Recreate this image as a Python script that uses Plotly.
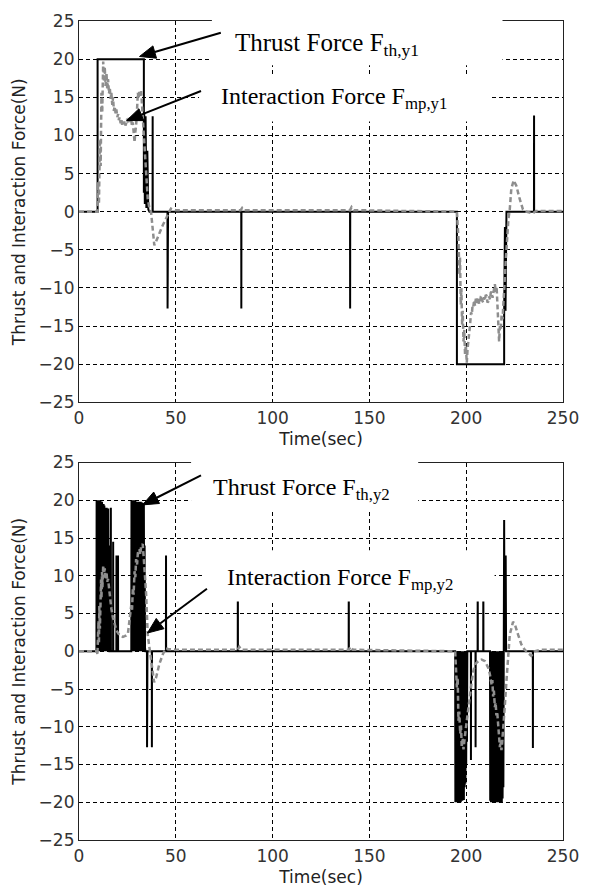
import math
import plotly.graph_objects as go

# ---------------- data ----------------
# Upper panel: thrust force F_th,y1 (black) and interaction force F_mp,y1 (grey dashed)
th1_t = [0, 9.6, 9.6, 33.5, 33.5, 33.7, 34.0, 34.4, 34.8, 35.3, 35.8, 36.4, 38.0, 38.05, 38.1,
         45.7, 45.75, 45.8, 45.9, 46.0, 83.8, 83.85, 83.9, 140.0, 140.05, 140.1,
         195.2, 195.2, 219.6, 219.6, 220.0, 220.3, 220.8, 235.0, 235.05, 235.1, 250]
th1_v = [0, 0, 20, 20, 2.5, 13, 1, 12.5, 0.5, 8, 0.3, 0, 0, 12.5, 0,
         0, -12.7, 0, -4.5, 0, 0, -12.7, 0, 0, -12.7, 0,
         0, -20, -20, -13.5, -2, -13, 0, 0, 12.6, 0, 0]

int1_t = [0, 9.5, 9.9, 10.3, 10.8, 11.2, 11.6, 12.0, 12.5, 12.9, 13.3, 13.7, 14.2, 14.6, 15.0,
          15.5, 15.9, 16.3, 16.7, 17.2, 17.6, 18.0, 18.4, 18.9, 19.3, 19.8, 20.2, 20.6, 21.0,
          21.5, 21.9, 22.3, 22.7, 23.2, 23.6, 24.0, 24.4, 24.9, 25.3, 25.7, 26.1, 26.6, 27.0,
          27.4, 27.8, 28.3, 28.7, 29.1, 29.5, 30.0, 30.4, 30.8, 31.2, 31.7, 32.1, 32.5, 32.9,
          33.4, 33.8, 34.2, 34.7, 35.1, 35.5, 36.0, 36.4, 37.2, 37.7, 38.1, 38.5, 38.9, 39.5,
          40.6, 41.9, 43.2, 44.5, 45.7, 46.6, 47.5, 48.5, 50, 60, 83.5, 84.3, 85.5, 140, 140.8,
          142, 195.2, 196.0, 196.3, 196.5, 196.8, 197.2, 197.5, 197.9, 198.2, 198.6, 199.0,
          199.4, 199.8, 200.3, 200.7, 201.2, 201.6, 202.0, 202.5, 202.9, 203.3, 203.7, 204.1,
          204.5, 205.0, 205.4, 205.8, 206.2, 206.7, 207.1, 207.6, 208.0, 208.4, 208.8, 209.3,
          209.7, 210.1, 210.5, 211.0, 211.4, 211.9, 212.3, 212.7, 213.1, 213.6, 214.0, 214.4,
          214.8, 215.3, 215.7, 216.2, 216.6, 217.0, 217.4, 217.9, 218.3, 218.8, 219.2, 219.6,
          220.0, 220.5, 220.9, 221.3, 221.8, 222.5, 223.3, 224.5, 225.9, 227.6, 229.3, 231,
          234.4, 236.1, 250]
int1_v = [0, 0, 3.9, 1, 9.5, 6, 15.6, 13, 19.7, 17, 19, 16.5, 18.2, 16, 17.4,
          15.5, 16.3, 14.8, 15.6, 14, 15, 13.2, 13.8, 12.9, 13.4, 12.4, 12.8, 12.0, 12.4,
          11.6, 12.1, 11.4, 11.8, 11.5, 11.9, 11.3, 11.6, 12.2, 11.7, 12.3, 11.6, 12.4, 12.0,
          11.2, 11.7, 9.5, 9.1, 10.5, 11.3, 13.5, 15.6, 14.8, 15.9, 15.2, 15.8, 14.2, 12.5,
          10, 7.8, 6.5, 4.3, 3.2, 1.7, 1, 0.4, 0, -1.5, -2.6, -3.8, -4.4, -4.1,
          -3.5, -2.6, -1.8, -1.0, -0.5, 0, 0.4, 0.3, 0.2, 0.2, 0.2, 0.5, 0.2, 0.2, 0.6,
          0.2, 0, -3.5, -5.5, -8.3, -6, -12.2, -10, -14.8, -13, -17, -15.5,
          -18.7, -17.5, -19.8, -18, -17, -15.5, -14.8, -13.2, -13.5, -12.2, -12.4, -11.6,
          -12.3, -11.4, -12, -11.5, -11.2, -12.1, -11.8, -11.1, -11.0, -11.7, -11.9, -11.2,
          -11.6, -10.9, -11.0, -11.9, -11.8, -11.1, -11.5, -10.6, -10.5, -11.3, -10.9, -10.1,
          -9.5, -10.5, -9.8, -12.6, -15.5, -17, -15, -15.4, -13.5, -14.1, -12, -10.6,
          -8.5, -6.1, -4, -2.2, -1, 0.3, 3.0, 4.1, 3.4, 1.7, 0.3, 0,
          -0.2, 0.1, 0.1]

# Lower panel: thrust force F_th,y2 (black, chattering) and interaction force F_mp,y2 (grey dashed)
th2_t = [0, 9.0,
         9.1, 9.3, 9.5, 9.7, 9.9, 10.1, 10.3, 10.5, 10.7, 10.9, 11.1, 11.3, 11.5, 11.7, 11.9, 12.1,
         12.3, 12.5, 12.7, 12.9, 13.1, 13.3, 13.5, 13.7, 13.9, 14.1, 14.3, 14.5, 14.7, 14.9, 15.1,
         15.3, 15.5, 15.7, 16.4, 16.45, 16.5, 17.6, 17.65, 17.7, 19.3, 19.35, 19.4, 20.1, 20.15, 20.2,
         27.0, 27.1, 27.3, 27.5, 27.7, 27.9, 28.1, 28.3, 28.5, 28.7, 28.9, 29.1, 29.3, 29.5, 29.7,
         29.9, 30.1, 30.3, 30.5, 30.7, 30.9, 31.1, 31.3, 31.5, 31.7, 31.9, 32.1, 32.3, 32.5, 32.7,
         32.9, 33.1, 33.3, 33.5, 33.7, 33.9, 34.1, 34.3,
         35.1, 35.15, 35.2, 35.25, 35.35, 37.6, 37.65, 37.7, 44.9, 44.95, 45.0,
         82.0, 82.05, 82.1, 139.3, 139.35, 139.4,
         194.3, 194.4, 194.6, 194.8, 195.0, 195.2, 195.4, 195.6, 195.8, 196.0, 196.2, 196.4, 196.6,
         196.8, 197.0, 197.2, 197.4, 197.6, 197.8, 198.0, 198.2, 198.4, 198.6, 198.8, 199.0, 199.2,
         199.4, 199.6, 199.8, 200.0, 200.2, 200.4, 200.6,
         202.4, 202.45, 202.5, 204.8, 204.85, 204.9, 205.9, 205.95, 206.0, 208.8, 208.85, 208.9,
         212.3, 212.4, 212.6, 212.8, 213.0, 213.2, 213.4, 213.6, 213.8, 214.0, 214.2, 214.4, 214.6,
         214.8, 215.0, 215.2, 215.4, 215.6, 215.8, 216.0, 216.2, 216.4, 216.6, 216.8, 217.0, 217.2,
         217.4, 217.6, 217.8, 218.0, 218.2, 218.4, 218.6, 218.8, 219.0, 219.2, 219.4,
         219.6, 219.8, 220.0, 220.2, 220.4, 220.6, 234.4, 234.45, 234.5, 250]
th2_v = [0, 0,
         20, 0.3, 20, 0, 19.8, 0.5, 20, 0, 19.6, 0.4, 20, 0, 19.5, 0.6, 19.8, 0,
         19.2, 0.3, 19.5, 0, 19.3, 0.5, 19, 0, 18.8, 0.4, 19, 0, 17.5, 0.2, 18.9,
         0, 14, 0, 0, 19, 0, 0, 14.5, 0, 0, 12.7, 0, 0, 12.7, 0,
         0, 20, 0.3, 20, 0, 19.8, 0.4, 20, 0, 19.7, 0.5, 20, 0, 19.8, 0.3,
         19.6, 0, 19.8, 0.4, 19.5, 0, 19.8, 0.2, 19.6, 0, 19.8, 0.5, 19.5, 0, 19.7,
         0.3, 19.5, 0, 19.6, 0.3, 14, 0.5, 0,
         0, -12.7, 0, -7.6, 0, 0, -12.7, 0, 0, 12.7, 0,
         0, 12.5, 0, 0, 12.5, 0,
         0, -20, -0.3, -20, 0, -19.8, -0.5, -20, 0, -19.8, -0.4, -20, 0,
         -19.7, -0.5, -20, 0, -19.6, -0.3, -19.8, 0, -19.5, -0.4, -19.7, 0, -18,
         -0.3, -17.5, 0, -15, 0, -12, 0,
         0, -14.4, 0, 0, -12.7, 0, 0, 12.5, 0, 0, 12.5, 0,
         0, -19.8, -0.4, -20, 0, -19.7, -0.5, -20, 0, -19.8, -0.3, -20, 0,
         -19.6, -0.5, -20, 0, -19.8, -0.4, -20, 0, -19.7, -0.3, -20, 0, -19.8,
         -0.5, -20, 0, -19.6, -0.3, -20, 0, -19.5, -0.4, -18, 0,
         17.4, 0, 12.7, 0, 12.7, 0, 0, -12.8, 0, 0]

int2_t = [0, 9.3, 9.5, 9.7, 9.9, 10.1, 10.3, 10.5, 10.8, 11.0, 11.2, 11.4, 11.6, 11.9, 12.1,
          12.5, 12.8, 13.3, 13.7, 14.2, 14.6, 15.0, 15.4, 15.9, 16.3, 16.7, 17.5, 18.4, 19.3,
          20.2, 21.0, 21.9, 22.7, 23.6, 24.4, 25.3, 26.1, 26.5, 27.0, 27.4, 27.8, 28.2, 28.7,
          29.1, 29.5, 30.0, 30.4, 31.2, 31.7, 32.1, 32.9, 33.4, 33.8, 34.2, 34.7, 35.2, 35.5,
          36.0, 36.4, 37.2, 38.1, 38.8, 39.8, 41.5, 43.3, 44.8, 46, 50, 82, 82.8, 84, 139.4,
          140.2, 141.5, 194.3, 195.2, 195.6, 196.0, 196.4, 196.9, 197.3, 197.7, 198.2, 198.6,
          199.0, 199.4, 199.8, 200.3, 201.2, 202.0, 202.9, 203.7, 204.6, 206.3, 208.0, 209.7,
          211.4, 212.2, 213.1, 213.5, 213.9, 214.3, 214.8, 215.2, 215.6, 216.0, 216.5, 217.0,
          217.4, 217.8, 218.2, 218.6, 219.1, 219.9, 220.8, 221.6, 222.5, 224.2, 225.1, 226.8,
          228.5, 230.2, 231.9, 233.6, 235.3, 238.7, 250]
int2_v = [0, 0, -0.5, 2, -0.3, 4, 1, 6, 3, 8, 5, 9.5, 7, 10.5, 8.5,
          11.4, 9.8, 11, 9.5, 10.5, 9.2, 9.6, 8.5, 7.9, 6.5, 5.7, 4.5, 3.5, 2.8,
          2.4, 2.1, 2.0, 1.9, 2.0, 2.1, 2.4, 3.9, 4.5, 6.1, 5.5, 8.3, 7.5, 10.6,
          9.8, 12.2, 11.5, 13, 13.5, 12.8, 14, 14.2, 12.5, 11.4, 9.5, 7.4, 3.9, 2.2,
          1.2, 0.4, -1.3, -3.1, -4.1, -3.5, -1.7, -0.4, 0.4, 0.3, 0.2, 0.2, 0.6, 0.2, 0.2,
          0.6, 0.2, 0, -4.8, -3.5, -9.2, -8, -10.9, -9.8, -12.7, -11.5, -13,
          -12, -11.3, -10.5, -9.2, -7.4, -5.5, -3.9, -2.6, -1.7, -1.3, -1.1, -1.3,
          -2.2, -3, -4.4, -3.8, -6, -5.2, -7.4, -6.8, -8.5, -8, -10, -11.5,
          -12.7, -11.8, -13.1, -12, -10.5, -7.4, -3.9, -0.4, 2.2, 3.9, 3.6, 2.2,
          0.9, 0.2, -0.2, -0.6, 0, 0.2, 0.2]

x_ticks = [0, 50, 100, 150, 200, 250]
y_ticks = [-25, -20, -15, -10, -5, 0, 5, 10, 15, 20, 25]

x_title = "Time(sec)"
y_title = "Thrust and Interaction Force(N)"
labels_top = ["Thrust Force F<sub>th,y1</sub>", "Interaction Force F<sub>mp,y1</sub>"]
labels_bot = ["Thrust Force F<sub>th,y2</sub>", "Interaction Force F<sub>mp,y2</sub>"]

# ---------------- layout geometry ----------------
W, H = 590, 894
ML, MR, MT, MB = 79, 23, 11, 52
PW, PH = W - ML - MR, H - MT - MB


def px(xp, yp):
    """pixel position -> paper fraction"""
    return (xp - ML) / PW, (H - MB - yp) / PH


BLACK = "#000000"
GREY = "#8e8e8e"

fig = go.Figure()
fig.add_trace(go.Scatter(x=th1_t, y=th1_v, mode="lines", line=dict(color=BLACK, width=2),
                         xaxis="x", yaxis="y", showlegend=False))
fig.add_trace(go.Scatter(x=int1_t, y=int1_v, mode="lines",
                         line=dict(color=GREY, width=2.5, dash="5px,3px"),
                         xaxis="x", yaxis="y", showlegend=False))
fig.add_trace(go.Scatter(x=th2_t, y=th2_v, mode="lines", line=dict(color=BLACK, width=2),
                         xaxis="x2", yaxis="y2", showlegend=False))
fig.add_trace(go.Scatter(x=int2_t, y=int2_v, mode="lines",
                         line=dict(color=GREY, width=2.5, dash="5px,3px"),
                         xaxis="x2", yaxis="y2", showlegend=False))

tickfont = dict(family="DejaVu Sans", size=17, color="#333333")
titlefont = dict(family="DejaVu Sans", size=17, color="#222222")
common_x = dict(range=[0, 250], tickvals=x_ticks, showline=True, mirror=True, linecolor="#222",
                linewidth=1.2, showgrid=True, gridcolor="#000", gridwidth=1, griddash="4px,3px",
                zeroline=False, ticks="", tickfont=tickfont,
                title=dict(text=x_title, font=titlefont, standoff=6))
common_y = dict(range=[-25, 25], tickvals=y_ticks, showline=True, mirror=True, linecolor="#222",
                linewidth=1.2, showgrid=True, gridcolor="#000", gridwidth=1, griddash="4px,3px",
                zeroline=False, ticks="", tickfont=tickfont,
                title=dict(text=y_title, font=titlefont, standoff=8))

top_dom = [px(0, 398)[1], 1.0]
bot_dom = [0.0, px(0, 459)[1]]

fig.update_layout(
    width=W, height=H, margin=dict(l=ML, r=MR, t=MT, b=MB),
    paper_bgcolor="white", plot_bgcolor="white",
    xaxis={**common_x, "domain": [0, 1], "anchor": "y"},
    yaxis={**common_y, "domain": top_dom, "anchor": "x"},
    xaxis2={**common_x, "domain": [0, 1], "anchor": "y2"},
    yaxis2={**common_y, "domain": bot_dom, "anchor": "x2"},
)

# white label boxes (they hide grid and frame, as in the reference)
boxes = [(213, 6, 506, 56), (200, 66, 493, 113), (192, 454, 421, 508), (203, 548, 498, 600)]
for (x0, y0, x1, y1) in boxes:
    a0, b0 = px(x0, y1)
    a1, b1 = px(x1, y0)
    fig.add_shape(type="rect", xref="paper", yref="paper", x0=a0, y0=b0, x1=a1, y1=b1,
                  fillcolor="white", line=dict(width=0), layer="above")

serif = "Liberation Serif"
texts = [(labels_top[0], 234, 35, 25), (labels_top[1], 220, 89, 24),
         (labels_bot[0], 212, 486, 24), (labels_bot[1], 226, 577, 24)]
for (txt, x0, y0, sz) in texts:
    a, b = px(x0, y0)
    fig.add_annotation(text=txt, xref="paper", yref="paper", x=a, y=b, xanchor="left",
                       yanchor="middle", showarrow=False,
                       font=dict(family=serif, size=sz, color="black"))

# arrows drawn as shapes: (tip x, tip y, tail x, tail y) in pixels
arrows = [(140, 47, 222, 23), (127, 112, 202, 82), (143, 502, 202, 472), (148, 632, 208, 587)]
HEAD_L, HEAD_W = 16, 13
for (tx, ty, sx, sy) in arrows:
    dx, dy = sx - tx, sy - ty
    n = math.hypot(dx, dy)
    ux, uy = dx / n, dy / n
    bx, by = tx + HEAD_L * ux, ty + HEAD_L * uy
    c1 = (bx - uy * HEAD_W / 2, by + ux * HEAD_W / 2)
    c2 = (bx + uy * HEAD_W / 2, by - ux * HEAD_W / 2)
    a0, b0 = px(sx, sy)
    a1, b1 = px(bx, by)
    fig.add_shape(type="line", xref="paper", yref="paper", x0=a0, y0=b0, x1=a1, y1=b1,
                  line=dict(color="black", width=2), layer="above")
    p0, p1, p2 = px(tx, ty), px(*c1), px(*c2)
    path = "M {:.5f} {:.5f} L {:.5f} {:.5f} L {:.5f} {:.5f} Z".format(p0[0], p0[1], p1[0], p1[1], p2[0], p2[1])
    fig.add_shape(type="path", xref="paper", yref="paper", path=path,
                  fillcolor="black", line=dict(color="black", width=1), layer="above")

fig.write_html("out.html")
